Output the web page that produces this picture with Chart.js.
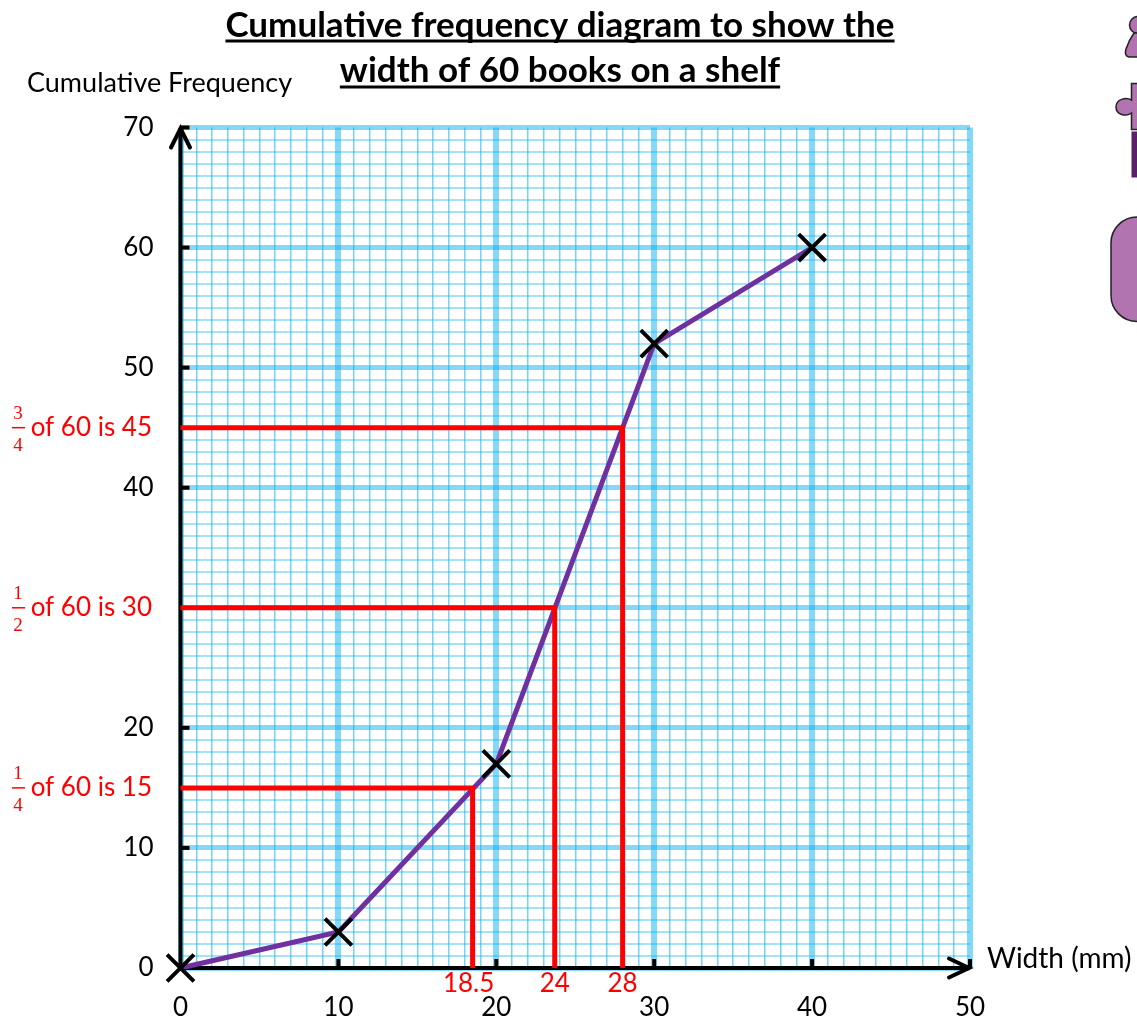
<!DOCTYPE html>
<html>
<head>
<meta charset="utf-8">
<title>Cumulative frequency diagram</title>
<script src="https://cdn.jsdelivr.net/npm/chart.js@4"></script>
<style>
  html, body { margin: 0; padding: 0; background: #fff; }
  #wrap { width: 1137px; height: 1019px; }
</style>
</head>
<body>
<div id="wrap"><canvas id="chart" width="1137" height="1019"></canvas></div>
<script>
// data
const widths = [0, 10, 20, 30, 40];
const cumulativeFreq = [0, 3, 17, 52, 60];
const quartileWidths = [18.5, 23.7, 28];
const quartileLabels = ['18.5', '24', '28'];
const quartileFreqs = [15, 30, 45];
const quartileFractions = [['1', '4'], ['1', '2'], ['3', '4']];
const xTickLabels = ['0', '10', '20', '30', '40', '50'];
const yTickLabels = ['0', '10', '20', '40', '50', '60', '70'];
const titleLines = ['Cumulative frequency diagram to show the', 'width of 60 books on a shelf'];
const yAxisTitle = 'Cumulative Frequency';
const xAxisTitle = 'Width (mm)';

const FONT = 'Lato, "Open Sans", sans-serif';
const RED = '#ff0000';

function xGridColor(ctx) {
  return ctx.tick && ctx.tick.value % 10 === 0 ? 'rgba(0,176,240,0.48)' : 'rgba(0,176,240,0.55)';
}
function yGridColor(ctx) {
  return ctx.tick && ctx.tick.value % 10 === 0 ? 'rgba(0,176,240,0.48)' : 'rgba(0,176,240,0.35)';
}
function xGridWidth(ctx) {
  return ctx.tick && ctx.tick.value % 10 === 0 ? 6 : 1.5;
}
function yGridWidth(ctx) {
  return ctx.tick && ctx.tick.value % 10 === 0 ? 5 : 2;
}

// the three red read-off lines, each goes across from the y axis and down to the x axis
const quartileSets = quartileWidths.map((w, i) => ({
  label: 'Q' + (i + 1),
  data: [{ x: 0, y: quartileFreqs[i] }, { x: w, y: quartileFreqs[i] }, { x: w, y: 0 }],
  showLine: true,
  borderColor: RED,
  borderWidth: 5,
  pointRadius: 0,
  borderJoinStyle: 'miter',
  clip: false
}));

const curveSet = {
  label: 'Cumulative frequency',
  data: widths.map((w, i) => ({ x: w, y: cumulativeFreq[i] })),
  showLine: true,
  borderColor: '#7030a0',
  borderWidth: 5,
  pointStyle: 'crossRot',
  pointRadius: 19,
  pointBorderColor: '#000',
  pointBorderWidth: 4,
  clip: false
};

function line(c, x1, y1, x2, y2) {
  c.beginPath();
  c.moveTo(x1, y1);
  c.lineTo(x2, y2);
  c.stroke();
}

// black axes with arrow heads and inward ticks
const axesPlugin = {
  id: 'axes',
  beforeDatasetsDraw(chart) {
    const c = chart.ctx, xs = chart.scales.x, ys = chart.scales.y;
    const x0 = xs.getPixelForValue(0), y0 = ys.getPixelForValue(0);
    const xEnd = xs.getPixelForValue(50), yEnd = ys.getPixelForValue(70);
    c.save();
    c.strokeStyle = '#000';
    c.lineWidth = 4;
    line(c, x0, y0, xEnd, y0);
    line(c, x0, y0, x0, yEnd + 1);
    c.lineCap = 'round';
    c.beginPath();
    c.moveTo(xEnd - 21, y0 - 9.5); c.lineTo(xEnd - 1, y0); c.lineTo(xEnd - 21, y0 + 9.5);
    c.stroke();
    c.beginPath();
    c.moveTo(x0 - 9.5, yEnd + 20); c.lineTo(x0, yEnd + 1); c.lineTo(x0 + 9.5, yEnd + 20);
    c.stroke();
    c.lineCap = 'butt';
    xTickLabels.slice(1).forEach(t => {
      const p = xs.getPixelForValue(+t);
      line(c, p, y0, p, y0 - 9);
    });
    yTickLabels.slice(1).forEach(t => {
      const p = ys.getPixelForValue(+t);
      line(c, x0, p, x0 + 9, p);
    });
    c.restore();
  }
};

// title, axis names and the red annotations
const textPlugin = {
  id: 'texts',
  afterDatasetsDraw(chart) {
    const c = chart.ctx, xs = chart.scales.x, ys = chart.scales.y;
    c.save();
    c.textBaseline = 'alphabetic';

    c.fillStyle = '#000';
    c.strokeStyle = '#000';
    c.font = 'bold 35px ' + FONT;
    c.textAlign = 'center';
    [[37, 41], [82, 87]].forEach((pos, i) => {
      c.fillText(titleLines[i], 560, pos[0]);
      const w = c.measureText(titleLines[i]).width;
      c.lineWidth = 3;
      line(c, 560 - w / 2, pos[1], 560 + w / 2, pos[1]);
    });

    c.font = '27px ' + FONT;
    c.textAlign = 'left';
    c.fillText(yAxisTitle, 27, 92);
    c.font = '28px ' + FONT;
    c.fillText(xAxisTitle, 987, 968);

    c.fillStyle = RED;
    c.strokeStyle = RED;
    c.font = '26px ' + FONT;
    c.textAlign = 'center';
    quartileWidths.forEach((w, i) => {
      const shift = i === 0 ? -4 : 0;
      c.fillText(quartileLabels[i], xs.getPixelForValue(w) + shift, 992);
    });

    quartileFreqs.forEach((f, i) => {
      const y = ys.getPixelForValue(f);
      c.font = '26px ' + FONT;
      c.textAlign = 'right';
      c.fillText('of 60 is ' + f, 152, y + 8);
      c.font = '19px "Liberation Serif", serif';
      c.textAlign = 'center';
      c.fillText(quartileFractions[i][0], 18, y - 9);
      c.fillText(quartileFractions[i][1], 18, y + 23);
      c.lineWidth = 1.5;
      line(c, 12, y, 25, y);
    });
    c.restore();
  }
};

// cropped purple shapes on the right edge of the slide
const shapesPlugin = {
  id: 'shapes',
  beforeDraw(chart) {
    const c = chart.ctx;
    c.save();
    c.fillStyle = '#b174b0';
    c.strokeStyle = '#222';
    c.lineWidth = 1.5;

    // person
    c.beginPath();
    c.arc(1138, 25, 8.5, 0, Math.PI * 2);
    c.fill(); c.stroke();
    c.beginPath();
    c.moveTo(1140, 57);
    c.lineTo(1129, 57);
    c.quadraticCurveTo(1124, 56, 1126, 49);
    c.quadraticCurveTo(1129, 40, 1134, 33);
    c.lineTo(1140, 33);
    c.closePath();
    c.fill(); c.stroke();

    // puzzle piece
    c.beginPath();
    c.moveTo(1140, 83.5);
    c.lineTo(1131.5, 83.5);
    c.lineTo(1131.5, 100);
    c.bezierCurveTo(1126, 97, 1116, 99, 1116, 107);
    c.bezierCurveTo(1116, 115, 1126, 117, 1131.5, 113);
    c.lineTo(1131.5, 129.5);
    c.lineTo(1140, 129.5);
    c.fill(); c.stroke();

    c.fillStyle = '#5b1f69';
    c.fillRect(1131.5, 131.5, 6, 46);

    // rounded box
    c.fillStyle = '#b174b0';
    c.beginPath();
    c.roundRect(1111, 217, 60, 104.5, 26);
    c.fill(); c.stroke();
    c.restore();
  }
};

new Chart(document.getElementById('chart'), {
  type: 'scatter',
  data: { datasets: [...quartileSets, curveSet] },
  plugins: [shapesPlugin, axesPlugin, textPlugin],
  options: {
    responsive: false,
    animation: false,
    layout: { padding: { top: 127.5, right: 167, left: 0, bottom: 0 } },
    plugins: { legend: { display: false }, tooltip: { enabled: false } },
    scales: {
      x: {
        type: 'linear',
        min: 0,
        max: 50,
        afterFit(scale) { scale.height = 51; },
        border: { display: false },
        grid: { color: xGridColor, lineWidth: xGridWidth, drawTicks: false },
        ticks: {
          stepSize: 1,
          autoSkip: false,
          maxRotation: 0,
          padding: 24,
          color: '#000',
          font: { family: FONT, size: 26 },
          callback: v => xTickLabels.includes(String(v)) ? String(v) : ''
        }
      },
      y: {
        type: 'linear',
        min: 0,
        max: 70,
        afterFit(scale) { scale.width = 180.5; },
        border: { display: false },
        grid: { color: yGridColor, lineWidth: yGridWidth, drawTicks: false },
        ticks: {
          stepSize: 1,
          autoSkip: false,
          padding: 27,
          color: '#000',
          font: { family: FONT, size: 26 },
          callback: v => yTickLabels.includes(String(v)) ? String(v) : ''
        }
      }
    }
  }
});
</script>
</body>
</html>
